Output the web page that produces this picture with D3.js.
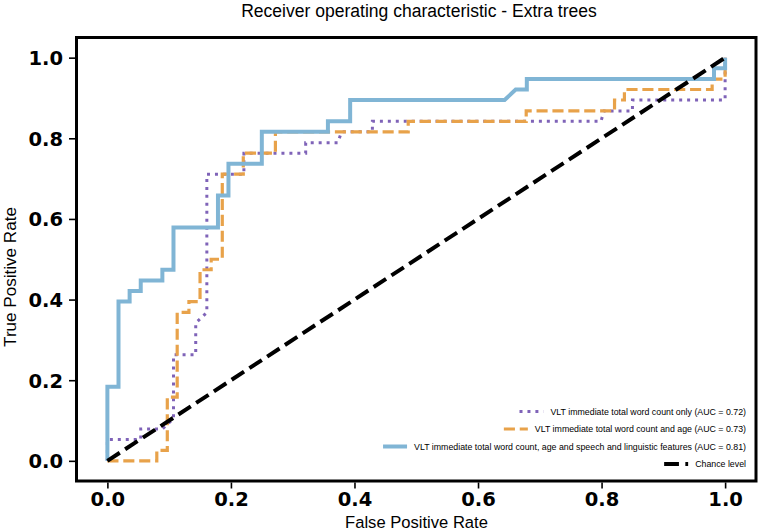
<!DOCTYPE html>
<html>
<head>
<meta charset="utf-8">
<script src="https://cdn.jsdelivr.net/npm/d3@7"></script>
<style>
html,body{margin:0;padding:0;background:#fff;}
svg{display:block;}
</style>
</head>
<body>
<svg id="chart" width="761" height="532"></svg>
<script>
// ---- Data ----
const title = "Receiver operating characteristic - Extra trees";
const xLabel = "False Positive Rate";
const yLabel = "True Positive Rate";
const tickValues = [0.0, 0.2, 0.4, 0.6, 0.8, 1.0];

const seriesNames = [
  "VLT immediate total word count only (AUC = 0.72)",
  "VLT immediate total word count and age (AUC = 0.73)",
  "VLT immediate total word count, age and speech and linguistic features (AUC = 0.81)",
  "Chance level"
];

// ROC curve 1: word count only
const fpr1 = [0, 0, 0.054, 0.054, 0.089, 0.107, 0.107, 0.143, 0.143, 0.161, 0.161, 0.221, 0.221, 0.321, 0.321, 0.373, 0.379, 0.429, 0.429, 0.799, 0.804, 0.850, 0.850, 1.0, 1.0];
const tpr1 = [0, 0.053, 0.053, 0.079, 0.079, 0.105, 0.263, 0.263, 0.342, 0.368, 0.711, 0.711, 0.763, 0.763, 0.789, 0.789, 0.816, 0.816, 0.842, 0.842, 0.868, 0.868, 0.895, 0.895, 1.0];

// ROC curve 2: word count and age
const fpr2 = [0, 0.080, 0.080, 0.097, 0.097, 0.113, 0.113, 0.132, 0.132, 0.150, 0.150, 0.168, 0.168, 0.186, 0.186, 0.220, 0.220, 0.272, 0.272, 0.487, 0.487, 0.678, 0.678, 0.821, 0.821, 0.837, 0.837, 0.979, 0.979, 1.0, 1.0];
const tpr2 = [0, 0, 0.026, 0.026, 0.158, 0.158, 0.368, 0.368, 0.395, 0.395, 0.474, 0.474, 0.500, 0.500, 0.711, 0.711, 0.763, 0.763, 0.816, 0.816, 0.842, 0.842, 0.868, 0.868, 0.895, 0.895, 0.921, 0.921, 0.947, 0.947, 1.0];

// ROC curve 3: word count, age, speech and linguistic features
const fpr3 = [0, 0, 0.018, 0.018, 0.036, 0.036, 0.054, 0.054, 0.089, 0.089, 0.107, 0.107, 0.179, 0.179, 0.196, 0.196, 0.250, 0.250, 0.357, 0.357, 0.393, 0.393, 0.643, 0.661, 0.679, 0.679, 0.982, 0.982, 1.0, 1.0];
const tpr3 = [0, 0.184, 0.184, 0.395, 0.395, 0.421, 0.421, 0.447, 0.447, 0.474, 0.474, 0.579, 0.579, 0.658, 0.658, 0.737, 0.737, 0.816, 0.816, 0.842, 0.842, 0.895, 0.895, 0.921, 0.921, 0.947, 0.947, 0.974, 0.974, 1.0];

// Chance level
const fprChance = [0, 1];
const tprChance = [0, 1];

// ---- Drawing ----
const svg = d3.select("#chart");
const frame = {left: 76.5, right: 756, top: 37.5, bottom: 481};

const x = d3.scaleLinear().domain([-0.05, 1.05]).range([frame.left, frame.right]);
const y = d3.scaleLinear().domain([-0.05, 1.05]).range([frame.bottom, frame.top]);

const styles = [
  {color: "#7f63b8", width: 3, dash: "3,4.95", cap: "butt"},
  {color: "#e8a24a", width: 3.2, dash: "11.1,4.8", cap: "butt"},
  {color: "#80b5d5", width: 4, dash: null, cap: "butt"},
  {color: "#000000", width: 4, dash: "14.8,6.4", cap: "butt"}
];

const series = [
  d3.zip(fpr1, tpr1),
  d3.zip(fpr2, tpr2),
  d3.zip(fpr3, tpr3),
  d3.zip(fprChance, tprChance)
];

svg.append("defs").append("clipPath").attr("id", "clip")
  .append("rect")
  .attr("x", frame.left).attr("y", frame.top)
  .attr("width", frame.right - frame.left).attr("height", frame.bottom - frame.top);

const line = d3.line().x(d => x(d[0])).y(d => y(d[1]));

const plot = svg.append("g").attr("clip-path", "url(#clip)");
series.forEach((s, i) => {
  const st = styles[i];
  plot.append("path")
    .datum(s)
    .attr("d", line)
    .attr("fill", "none")
    .attr("stroke", st.color)
    .attr("stroke-width", st.width)
    .attr("stroke-linejoin", "miter")
    .attr("stroke-linecap", st.cap)
    .attr("stroke-dasharray", st.dash);
});

// Frame
svg.append("rect")
  .attr("x", frame.left).attr("y", frame.top)
  .attr("width", frame.right - frame.left).attr("height", frame.bottom - frame.top)
  .attr("fill", "none").attr("stroke", "#000").attr("stroke-width", 3);

// Axes
const tickFmt = d3.format(".1f");
const xAxis = svg.append("g")
  .attr("transform", `translate(0,${frame.bottom + 1.5})`)
  .call(d3.axisBottom(x).tickValues(tickValues).tickFormat(tickFmt).tickSize(6).tickPadding(4));
const yAxis = svg.append("g")
  .attr("transform", `translate(${frame.left - 1.5},0)`)
  .call(d3.axisLeft(y).tickValues(tickValues).tickFormat(tickFmt).tickSize(6).tickPadding(6));

[xAxis, yAxis].forEach(g => {
  g.select(".domain").remove();
  g.selectAll(".tick line").attr("stroke", "#000").attr("stroke-width", 1.6);
  g.selectAll(".tick text")
    .attr("fill", "#000")
    .style("font-family", "'DejaVu Sans', sans-serif")
    .style("font-weight", "bold")
    .style("font-size", "19.5px");
});
yAxis.selectAll(".tick text").attr("dy", "0.36em");

// Helper: fit font size to a target width
function fitText(sel, targetWidth) {
  sel.style("font-size", "100px");
  const w = sel.node().getComputedTextLength();
  sel.style("font-size", (100 * targetWidth / w) + "px");
}

const txtFont = "'Liberation Sans', Arial, sans-serif";

const t = svg.append("text")
  .attr("x", 419).attr("y", 17)
  .attr("text-anchor", "middle")
  .style("font-family", txtFont)
  .attr("fill", "#000")
  .text(title);
fitText(t, 356);

const xl = svg.append("text")
  .attr("x", 416.5).attr("y", 528)
  .attr("text-anchor", "middle")
  .style("font-family", txtFont)
  .attr("fill", "#000")
  .text(xLabel);
fitText(xl, 143);

const yl = svg.append("text")
  .attr("transform", "translate(16,277) rotate(-90)")
  .attr("text-anchor", "middle")
  .style("font-family", txtFont)
  .attr("fill", "#000")
  .text(yLabel);
fitText(yl, 140);

// Legend (right-aligned entries, lower right)
const legendRight = 746;
const legendY = [411.5, 429, 446.5, 464];
const legend = svg.append("g");
let legendFont = null;
seriesNames.forEach((name, i) => {
  const st = styles[i];
  const tx = legend.append("text")
    .attr("x", legendRight).attr("y", legendY[i])
    .attr("dy", "0.35em")
    .attr("text-anchor", "end")
    .style("font-family", txtFont)
    .attr("fill", "#000")
    .text(name);
  if (legendFont === null) {
    fitText(tx, 196);
    legendFont = tx.style("font-size");
  } else {
    tx.style("font-size", legendFont);
  }
  const w = tx.node().getComputedTextLength();
  const x1 = legendRight - w - 7;
  const x0 = x1 - 24;
  legend.append("line")
    .attr("x1", x0).attr("x2", x1)
    .attr("y1", legendY[i]).attr("y2", legendY[i])
    .attr("stroke", st.color)
    .attr("stroke-width", st.width)
    .attr("stroke-dasharray", st.dash);
});
</script>
</body>
</html>
